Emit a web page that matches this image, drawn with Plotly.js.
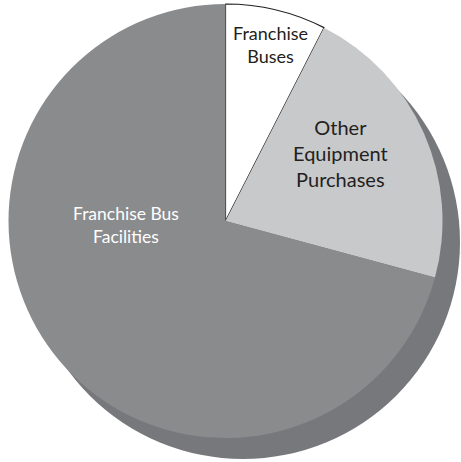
<!DOCTYPE html>
<html>
<head>
<meta charset="utf-8">
<script src="https://cdn.plot.ly/plotly-3.0.1.min.js"></script>
<style>html,body{margin:0;padding:0;background:#fff;}#chart{width:461px;height:462px;}</style>
</head>
<body>
<div id="chart"></div>
<script>
// Data
var categories = ["Franchise Buses", "Other Equipment Purchases", "Franchise Bus Facilities"];
var labelText = ["Franchise<br>Buses", "Other<br>Equipment<br>Purchases", "Franchise Bus<br>Facilities"];
var shares = [7.5, 21.7, 70.8];

var W = 461, H = 462;
function dom(cx, cy, r) {
  return {x: [(cx - r) / W, (cx + r) / W], y: [(H - cy - r) / H, (H - cy + r) / H]};
}

var shadow = {
  type: "pie",
  values: [1],
  labels: ["shadow"],
  domain: dom(243, 242, 217),
  marker: {colors: ["#77787b"], line: {width: 0}},
  textinfo: "none",
  hoverinfo: "skip",
  showlegend: false,
  sort: false
};

var main = {
  type: "pie",
  values: shares,
  labels: categories,
  domain: dom(225.5, 221, 217),
  sort: false,
  direction: "clockwise",
  rotation: 0,
  marker: {colors: ["#ffffff", "#c8c9cb", "#8a8b8d"], line: {color: ["#231f20", "#231f20", "#231f20"], width: [1.2, 0, 0]}},
  textinfo: "none",
  hoverinfo: "label+percent",
  showlegend: false
};

var textPos = [[270, 44], [340, 153], [126, 225]];
var textColors = ["#231f20", "#231f20", "#ffffff"];
var textSizes = [18, 20, 17.5];
var annotations = categories.map(function (c, i) {
  return {
    text: labelText[i],
    x: textPos[i][0] / W, y: 1 - textPos[i][1] / H,
    xref: "paper", yref: "paper",
    xanchor: "center", yanchor: "middle",
    showarrow: false, align: "center",
    font: {family: "Lato, sans-serif", size: textSizes[i], color: textColors[i]}
  };
});

Plotly.newPlot("chart", [shadow, main], {
  width: W, height: H,
  margin: {l: 0, r: 0, t: 0, b: 0},
  paper_bgcolor: "#ffffff",
  showlegend: false,
  annotations: annotations
}, {displayModeBar: false, staticPlot: true});
</script>
</body>
</html>
